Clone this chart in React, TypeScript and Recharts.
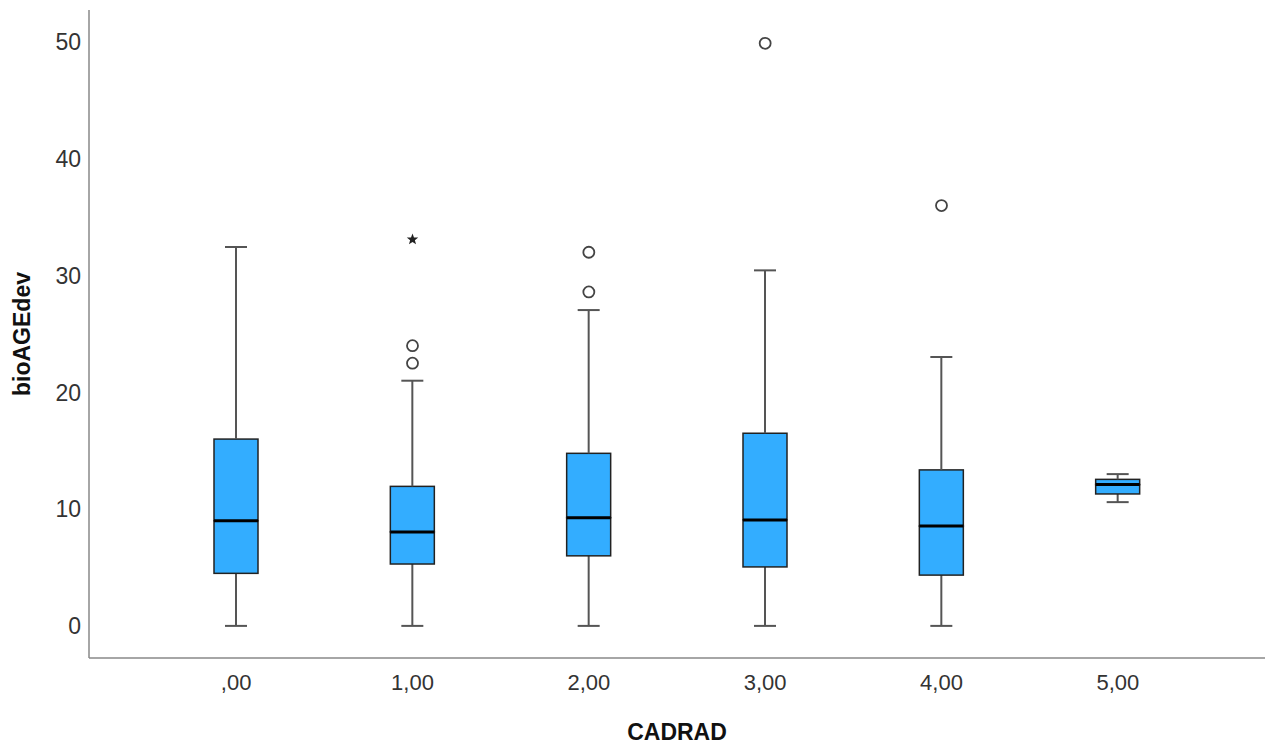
import { ComposedChart, Bar, Line, XAxis, YAxis, Label } from 'recharts'

const categories = [',00', '1,00', '2,00', '3,00', '4,00', '5,00']
const whiskerLow = [0, 0, 0, 0, 0, 10.6]
const q1 = [4.5, 5.3, 6.0, 5.05, 4.35, 11.3]
const median = [9.0, 8.05, 9.27, 9.08, 8.55, 12.1]
const q3 = [16.0, 11.95, 14.78, 16.5, 13.36, 12.55]
const whiskerHigh = [32.45, 21.0, 27.05, 30.45, 23.03, 13.0]
const outliers: number[][] = [[], [22.5, 24.0], [28.6, 32.0], [49.9], [36.0], []]
const extremes: (number | null)[] = [null, 33.1, null, null, null, null]
const yTicks = [0, 10, 20, 30, 40, 50]

const FONT = '"Liberation Sans", Arial, sans-serif'
const BOX_FILL = '#33adff'
const WHISKER = '#555'
const CAP = 22

const data = categories.map((cat, i) => ({
  cat,
  base: whiskerLow[i],
  lowW: q1[i] - whiskerLow[i],
  lowBox: median[i] - q1[i],
  upBox: q3[i] - median[i],
  upW: whiskerHigh[i] - q3[i],
  o1: outliers[i][0] ?? null,
  o2: outliers[i][1] ?? null,
  ext: extremes[i],
}))

const Empty = () => null

const LowWhisker = (p: any) => {
  const cx = p.x + p.width / 2
  const bottom = p.y + p.height
  return (
    <g>
      <line x1={cx} x2={cx} y1={p.y} y2={bottom} stroke={WHISKER} strokeWidth={2} />
      <line x1={cx - CAP / 2} x2={cx + CAP / 2} y1={bottom} y2={bottom} stroke={WHISKER} strokeWidth={2} />
    </g>
  )
}

const UpWhisker = (p: any) => {
  const cx = p.x + p.width / 2
  return (
    <g>
      <line x1={cx} x2={cx} y1={p.y} y2={p.y + p.height} stroke={WHISKER} strokeWidth={2} />
      <line x1={cx - CAP / 2} x2={cx + CAP / 2} y1={p.y} y2={p.y} stroke={WHISKER} strokeWidth={2} />
    </g>
  )
}

const LowBox = (p: any) => (
  <g>
    <rect x={p.x} y={p.y} width={p.width} height={p.height} fill={BOX_FILL} stroke="#222" strokeWidth={1.5} />
  </g>
)

const UpBox = (p: any) => {
  const bottom = p.y + p.height
  return (
    <g>
      <rect x={p.x} y={p.y} width={p.width} height={p.height} fill={BOX_FILL} stroke="#222" strokeWidth={1.5} />
      <line x1={p.x} x2={p.x + p.width} y1={bottom} y2={bottom} stroke="#000" strokeWidth={3} />
    </g>
  )
}

const CircleDot = (p: any) => {
  if (p.cy == null || p.value == null || isNaN(p.cy)) return <g key={p.key} />
  return <circle key={p.key} cx={p.cx} cy={p.cy} r={5.5} fill="#fff" stroke="#444" strokeWidth={1.8} />
}

const StarDot = (p: any) => {
  if (p.cy == null || p.value == null || isNaN(p.cy)) return <g key={p.key} />
  const pts: string[] = []
  for (let k = 0; k < 10; k++) {
    const r = k % 2 === 0 ? 6 : 2.5
    const a = -Math.PI / 2 + (k * Math.PI) / 5
    pts.push(`${p.cx + r * Math.cos(a)},${p.cy + r * Math.sin(a)}`)
  }
  return <polygon key={p.key} points={pts.join(' ')} fill="#222" />
}

export default function App() {
  return (
    <div style={{ position: 'absolute', left: 0, top: 0, background: '#fff' }}>
      <ComposedChart
        width={1279}
        height={752}
        data={data}
        margin={{ top: 10, right: 14, bottom: 0, left: 0 }}
      >
        <XAxis
          dataKey="cat"
          allowDuplicatedCategory={false}
          padding={{ left: 59, right: 59 }}
          height={94}
          tickLine={false}
          tickSize={0}
          tickMargin={16}
          axisLine={{ stroke: '#888', strokeWidth: 1.5 }}
          tick={{ fill: '#333', fontSize: 22, fontFamily: FONT }}
        >
          <Label
            value="CADRAD"
            position="insideBottom"
            offset={12}
            style={{ fill: '#111', fontSize: 23, fontWeight: 700, fontFamily: FONT }}
          />
        </XAxis>
        <YAxis
          type="number"
          domain={[-2.75, 52.75]}
          ticks={yTicks}
          width={89}
          tickLine={false}
          tickSize={0}
          tickMargin={8}
          axisLine={{ stroke: '#888', strokeWidth: 1.5 }}
          tick={{ fill: '#333', fontSize: 23, fontFamily: FONT }}
        >
          <Label
            content={({ viewBox }: any) => {
              const cx = viewBox.x + 22
              const cy = viewBox.y + viewBox.height / 2
              return (
                <text
                  x={cx}
                  y={cy}
                  transform={`rotate(-90 ${cx} ${cy})`}
                  textAnchor="middle"
                  dominantBaseline="central"
                  style={{ fill: '#111', fontSize: 23, fontWeight: 700, fontFamily: FONT }}
                >
                  bioAGEdev
                </text>
              )
            }}
          />
        </YAxis>
        <Bar dataKey="base" stackId="box" barSize={44} shape={Empty} isAnimationActive={false} />
        <Bar dataKey="lowW" stackId="box" barSize={44} shape={LowWhisker} isAnimationActive={false} />
        <Bar dataKey="lowBox" stackId="box" barSize={44} shape={LowBox} isAnimationActive={false} />
        <Bar dataKey="upBox" stackId="box" barSize={44} shape={UpBox} isAnimationActive={false} />
        <Bar dataKey="upW" stackId="box" barSize={44} shape={UpWhisker} isAnimationActive={false} />
        <Line dataKey="o1" stroke="none" dot={CircleDot} activeDot={false} isAnimationActive={false} />
        <Line dataKey="o2" stroke="none" dot={CircleDot} activeDot={false} isAnimationActive={false} />
        <Line dataKey="ext" stroke="none" dot={StarDot} activeDot={false} isAnimationActive={false} />
      </ComposedChart>
    </div>
  )
}
